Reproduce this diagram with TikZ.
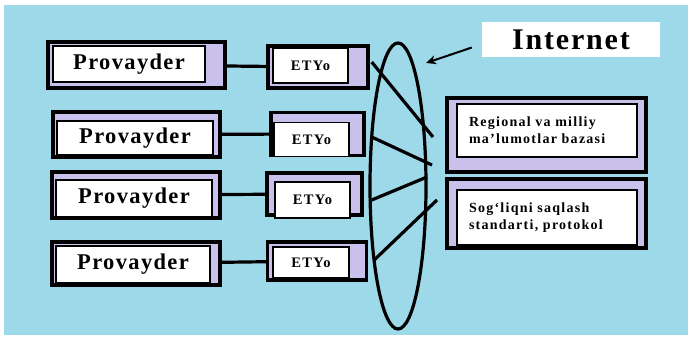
\documentclass[tikz,border=0pt]{standalone}
\usepackage{fontspec}
\setmainfont{Liberation Serif}
\newfontfamily\spacedfont[LetterSpace=6]{Liberation Serif}
\newfontfamily\widefont[LetterSpace=9]{Liberation Serif}
\usetikzlibrary{arrows.meta, shapes.geometric}
\definecolor{skyback}{RGB}{157,217,233}
\definecolor{boxlilac}{RGB}{201,192,236}

\begin{document}
\begin{tikzpicture}[
  x=1pt, y=-1pt,
  frame/.style={draw, line width=3.4pt, fill=boxlilac, inner sep=0pt},
  card/.style={draw, line width=1.6pt, fill=white, inner sep=0pt},
  provtext/.style={card, font=\spacedfont\bfseries\fontsize{22.5}{24}\selectfont},
  etytext/.style={card, font=\widefont\bfseries\fontsize{14.5}{16}\selectfont},
  infotext/.style={card, text width=156pt, align=left, font=\widefont\bfseries\fontsize{14}{17}\selectfont},
  link/.style={line width=3.2pt},
  pointer/.style={-{Stealth[length=10pt, width=9pt]}, line width=2pt}
]

% Background
\fill[white] (0,0) rectangle (692,337);
\fill[skyback] (4,5) rectangle (688,335);

% Providers
\node[frame, minimum width=177pt, minimum height=46pt] (prov1) at (136.5,65) {};
\node[provtext, minimum width=152pt, minimum height=36pt] (provt1) at (129,64) {Provayder};
\node[frame, minimum width=167pt, minimum height=45pt] (prov2) at (136.5,134.5) {};
\node[provtext, minimum width=156pt, minimum height=34pt] (provt2) at (135,138) {Provayder};
\node[frame, minimum width=168pt, minimum height=46pt] (prov3) at (136,195) {};
\node[provtext, minimum width=156pt, minimum height=37pt] (provt3) at (134,198.5) {Provayder};
\node[frame, minimum width=168pt, minimum height=43pt] (prov4) at (136,263.5) {};
\node[provtext, minimum width=154pt, minimum height=37pt] (provt4) at (133,264.5) {Provayder};

% ETYo boxes
\node[frame, minimum width=100pt, minimum height=42pt] (ety1) at (318,67) {};
\node[etytext, minimum width=75pt, minimum height=35pt] (etyt1) at (310.5,65.5) {ETYo};
\node[frame, minimum width=93pt, minimum height=43pt] (ety2) at (317.5,134) {};
\node[etytext, minimum width=75pt, minimum height=34pt] (etyt2) at (311.5,139.5) {ETYo};
\node[frame, minimum width=95pt, minimum height=42pt] (ety3) at (314.5,194) {};
\node[etytext, minimum width=75pt, minimum height=36pt] (etyt3) at (312.5,200) {ETYo};
\node[frame, minimum width=99pt, minimum height=38pt] (ety4) at (317,261) {};
\node[etytext, minimum width=76pt, minimum height=31pt] (etyt4) at (311,262.5) {ETYo};

% Provider -- ETYo
\draw[link] (prov1) -- (ety1);
\draw[link] (prov2) -- (ety2);
\draw[link] (prov3) -- (ety3);
\draw[link] (prov4) -- (ety4);

% Internet ring
\node[draw, ellipse, line width=3.2pt, inner sep=0pt, minimum width=56pt, minimum height=286pt] (net) at (398,186) {};

% Lines through the ring
\coordinate (r1) at (433,137);
\coordinate (r2) at (432,165);
\coordinate (r3) at (427,177);
\coordinate (r4) at (437,200);
\draw[link] ([shift={(2,-5)}]ety1.east) -- (r1);
\draw[link] ([shift={(6,3)}]ety2.east) -- (r2);
\draw[link] ([shift={(8,6)}]ety3.east) -- (r3);
\draw[link] ([shift={(6,-1)}]ety4.east) -- (r4);

% Internet label
\node[fill=white, inner sep=0pt, minimum width=178pt, minimum height=35pt, font=\spacedfont\bfseries\fontsize{30}{32}\selectfont] (inet) at (571,39.5) {Internet};
\coordinate (tip) at (426,63);
\draw[pointer] ([shift={(-10,8)}]inet.west) -- (tip);

% Databases
\node[frame, minimum width=199pt, minimum height=74pt] (regf) at (546.5,135) {};
\node[infotext, minimum width=180pt, minimum height=53pt] (reg) at (547,130.5) {Regional va milliy\\ma’lumotlar bazasi};
\node[frame, minimum width=199pt, minimum height=69pt] (sogf) at (546.5,213.5) {};
\node[infotext, minimum width=180pt, minimum height=55pt] (sog) at (547,217.5) {Sog‘liqni saqlash\\standarti, protokol};

\end{tikzpicture}
\end{document}
